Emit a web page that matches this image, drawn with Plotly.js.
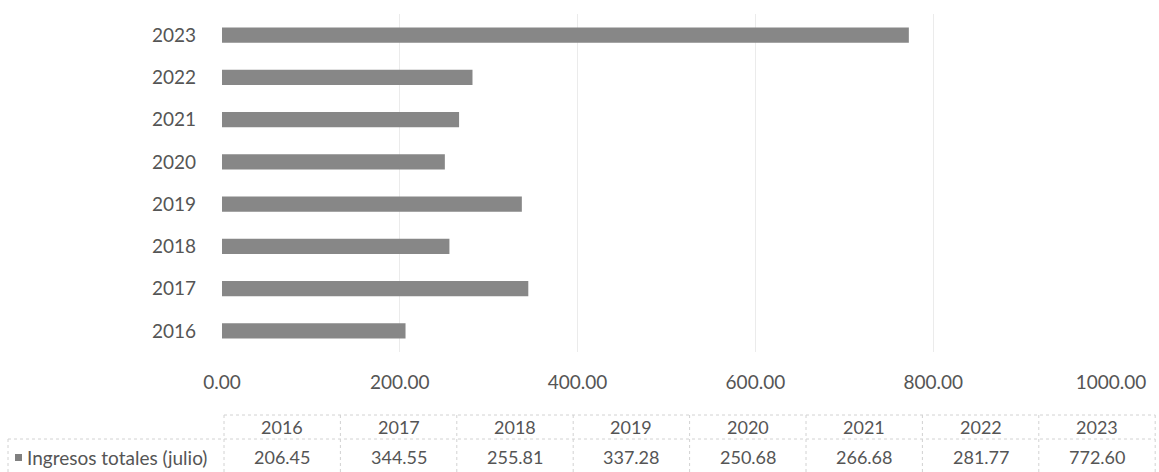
<!DOCTYPE html>
<html>
<head>
<meta charset="utf-8">
<script src="https://cdn.plot.ly/plotly-3.0.1.min.js"></script>
<style>html,body{margin:0;padding:0;background:#fff;}#chart{width:1159px;height:472px;}</style>
</head>
<body>
<div id="chart"></div>
<script>
var years = ["2016", "2017", "2018", "2019", "2020", "2021", "2022", "2023"];
var ingresos = [206.45, 344.55, 255.81, 337.28, 250.68, 266.68, 281.77, 772.60];
var seriesName = "Ingresos totales (julio)";
var xTickVals = [0, 200, 400, 600, 800, 1000];
var xTickText = ["0.00", "200.00", "400.00", "600.00", "800.00", "1000.00"];

var W = 1159, H = 472;
var plotL = 222, plotR = 1111, plotT = 14, plotB = 352;
var txtColor = "#555555";
var font = "Lato, 'Open Sans', sans-serif";
function px(x) { return (x - plotL) / (plotR - plotL); }
function py(y) { return (plotB - y) / (plotB - plotT); }

// table geometry (pixels)
var colStart = 224, colW = 116.4, labelLeft = 8;
var rowTop = 415, rowMid = 439, rowBot = 472;
var tableRight = colStart + colW * years.length;

var shapes = [], annotations = [];
var lineStyle = {color: "#d2d2d2", width: 1, dash: "dot"};
function hline(x0, x1, y) {
  shapes.push({type: "line", xref: "paper", yref: "paper", x0: px(x0), x1: px(x1), y0: py(y), y1: py(y), line: lineStyle});
}
function vline(x, y0, y1) {
  shapes.push({type: "line", xref: "paper", yref: "paper", x0: px(x), x1: px(x), y0: py(y0), y1: py(y1), line: lineStyle});
}
hline(colStart, tableRight, rowTop);
hline(labelLeft, tableRight, rowMid);
vline(labelLeft, rowMid, rowBot);
for (var i = 0; i <= years.length; i++) vline(colStart + colW * i, rowTop, rowBot);

var tfont = {family: font, size: 18, color: txtColor};
years.forEach(function (yr, i) {
  var cx = colStart + colW * (i + 0.5);
  annotations.push({xref: "paper", yref: "paper", x: px(cx), y: py(427), text: yr, showarrow: false,
    xanchor: "center", yanchor: "middle", font: tfont});
  annotations.push({xref: "paper", yref: "paper", x: px(cx), y: py(457), text: ingresos[i].toFixed(2), showarrow: false,
    xanchor: "center", yanchor: "middle", font: tfont});
});
// legend key + series label
shapes.push({type: "rect", xref: "paper", yref: "paper", x0: px(15), x1: px(22), y0: py(461), y1: py(454), fillcolor: "#808080", line: {width: 0}});
annotations.push({xref: "paper", yref: "paper", x: px(25), y: py(457), text: seriesName, showarrow: false,
  xanchor: "left", yanchor: "middle", font: {family: font, size: 19, color: txtColor}});

var data = [{
  type: "bar", orientation: "h", x: ingresos, y: years, width: 0.36,
  marker: {color: "#878787", line: {width: 0}}, hoverinfo: "x+y"
}];

var layout = {
  width: W, height: H,
  margin: {l: plotL, r: W - plotR, t: plotT, b: H - plotB, pad: 0},
  paper_bgcolor: "#ffffff", plot_bgcolor: "#ffffff",
  showlegend: false,
  font: {family: font, color: txtColor},
  xaxis: {range: [0, 1000], tickvals: xTickVals, ticktext: xTickText, showgrid: true, gridcolor: "#ebebeb", gridwidth: 1,
    zeroline: false, showline: false, ticks: "", ticklabelstandoff: 17, tickfont: {family: font, size: 19, color: txtColor}},
  yaxis: {type: "category", categoryorder: "array", categoryarray: years, showgrid: false, zeroline: false, showline: false,
    ticks: "", ticklabelstandoff: 25, tickfont: {family: font, size: 19, color: txtColor}},
  shapes: shapes, annotations: annotations
};
Plotly.newPlot("chart", data, layout, {displayModeBar: false, staticPlot: true});
</script>
</body>
</html>
